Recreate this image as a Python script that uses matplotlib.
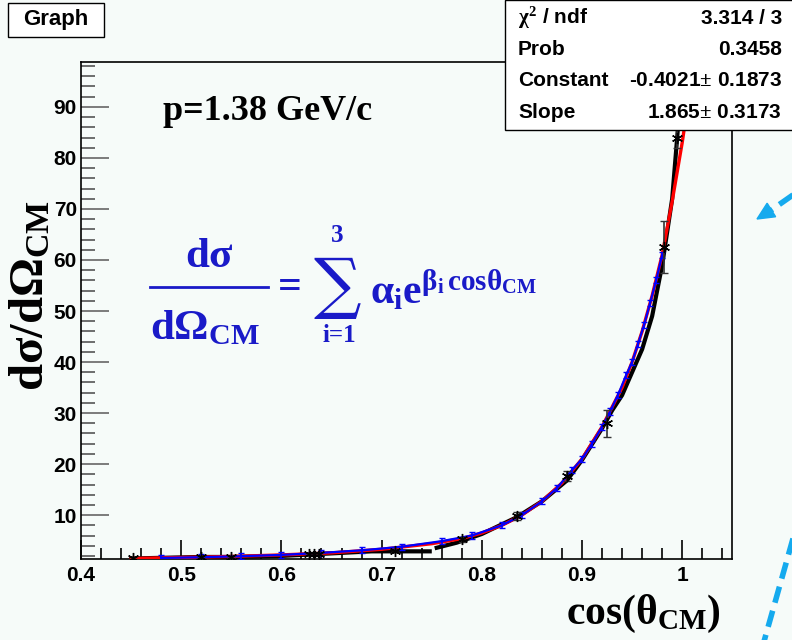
import numpy as np
import matplotlib
matplotlib.use('Agg')
import matplotlib.pyplot as plt
from matplotlib.patches import Rectangle, Polygon
from matplotlib.lines import Line2D
from matplotlib.ticker import MultipleLocator

plt.rcParams['mathtext.fontset'] = 'custom'
plt.rcParams['mathtext.rm'] = 'Liberation Serif:bold'
plt.rcParams['mathtext.it'] = 'Liberation Serif:bold'
plt.rcParams['mathtext.bf'] = 'Liberation Serif:bold'

# measured points (asterisks with error bars)
pt_x = [0.452, 0.52, 0.55, 0.628, 0.633, 0.638, 0.713, 0.78, 0.835, 0.885, 0.925, 0.982, 0.995]
pt_y = [1.6, 1.8, 1.8, 2.3, 2.4, 2.4, 3.0, 5.3, 9.8, 17.6, 28.0, 62.5, 84.0]
pt_err = [0.2, 0.2, 0.2, 0.2, 0.2, 0.2, 0.3, 0.5, 0.8, 1.0, 2.6, 5.1, 2.0]

# black thick line
blk_x = [0.45, 0.52, 0.55, 0.6, 0.63, 0.64, 0.69, 0.748, np.nan, 0.755, 0.775, 0.8, 0.835,
         0.86, 0.885, 0.9, 0.92, 0.93, 0.94, 0.95, 0.96, 0.97, 0.98, 0.99, 0.995, 1.0]
blk_y = [1.5, 1.8, 1.8, 2.0, 2.3, 2.4, 2.9, 2.9, np.nan, 3.6, 4.6, 6.3, 9.6,
         12.7, 16.8, 20.8, 27.0, 30.5, 33.5, 38.0, 42.5, 49.0, 59.0, 72.0, 84.0, 97.0]

# red fit curve
red_x = [0.45, 0.5, 0.55, 0.6, 0.65, 0.7, 0.75, 0.78, 0.8, 0.82, 0.84, 0.86, 0.88, 0.9,
         0.92, 0.94, 0.95, 0.96, 0.97, 0.98, 0.99, 1.0, 1.012]
red_y = [1.5, 1.7, 1.9, 2.2, 2.6, 3.3, 4.4, 5.4, 6.5, 8.0, 10.0, 12.7, 16.3, 21.0,
         27.3, 35.0, 40.0, 46.0, 53.0, 61.0, 71.5, 83.0, 99.0]

# blue curve with small markers
blu_x = [0.48, 0.52, 0.56, 0.6, 0.64, 0.68, 0.72, 0.76, 0.79, 0.82, 0.84, 0.86, 0.875, 0.89,
         0.9, 0.91, 0.92, 0.928, 0.936, 0.944, 0.95, 0.956, 0.962, 0.968, 0.974, 0.98]
blu_y = [1.6, 1.75, 1.95, 2.2, 2.6, 3.1, 3.8, 4.9, 6.0, 8.0, 10.0, 12.7, 15.3, 18.8,
         21.0, 24.0, 27.3, 30.3, 33.6, 37.4, 40.0, 43.6, 47.3, 51.6, 56.0, 61.0]

stat_names = [r'$\chi^2$ / ndf', 'Prob', 'Constant', 'Slope']
stat_vals = ['3.314 / 3', '0.3458', '-0.4021$\\pm$ 0.1873', '1.865$\\pm$ 0.3173']

W, H = 792, 640
bg = '#f6fbf9'
fig = plt.figure(figsize=(W / 100, H / 100), dpi=100, facecolor=bg)
ax = fig.add_axes([81 / W, 1 - 559 / H, (732 - 81) / W, (559 - 62) / H], facecolor=bg)

def px(x, y):
    return x / W, 1 - y / H

ax.plot(red_x, red_y, color='red', lw=2.4, zorder=3)
ax.plot(blk_x, blk_y, color='black', lw=3, zorder=2)
ax.errorbar(blu_x, blu_y, yerr=0.6, color='blue', lw=1.6, capsize=2.5, elinewidth=1.2, zorder=4)
ax.errorbar(pt_x, pt_y, yerr=pt_err, fmt='none', ecolor='#333333', elinewidth=1.2, capsize=3, zorder=5)
ax.plot(pt_x, pt_y, ls='none', marker=(6, 2, 0), ms=8, mec='black', mew=1, zorder=6)

ax.set_xlim(0.4, 1.0497)
ax.set_ylim(1.4, 98.8)
ax.xaxis.set_minor_locator(MultipleLocator(0.02))
ax.yaxis.set_minor_locator(MultipleLocator(2))
ax.set_yticks(range(10, 100, 10))
ax.set_xticks([0.4, 0.5, 0.6, 0.7, 0.8, 0.9, 1.0])
ax.set_xticklabels(['0.4', '0.5', '0.6', '0.7', '0.8', '0.9', '1'])
ax.tick_params(axis='x', which='major', direction='in', length=14, width=1.2, color='black', pad=5)
ax.tick_params(axis='x', which='minor', direction='in', length=8, width=1.2, color='black')
ax.tick_params(axis='y', which='major', direction='in', length=20, width=1.2, color='#666666', pad=3)
ax.tick_params(axis='y', which='minor', direction='in', length=10, width=1.2, color='#555555')
for lab in ax.get_xticklabels() + ax.get_yticklabels():
    lab.set_fontfamily('Liberation Sans')
    lab.set_fontweight('bold')
    lab.set_fontsize(15)
for s in ax.spines.values():
    s.set_linewidth(1.2)

# axis titles
fig.text(*px(643, 614), r'$\mathrm{cos(\theta_{CM})}$', fontsize=30, ha='center', va='center')
fig.text(*px(29, 295), r'$\mathrm{d\sigma/d\Omega_{CM}}$', fontsize=35, ha='center', va='center', rotation=90)

# momentum label
fig.text(*px(268, 111), 'p=1.38 GeV/c', fontsize=26, family='Liberation Serif', weight='bold',
         ha='center', va='center')

# formula
fc = '#1a1ac8'
fig.text(*px(209, 255), r'$\mathrm{d\sigma}$', fontsize=31, color=fc, ha='center', va='center')
fig.add_artist(Line2D([150 / W, 268 / W], [1 - 287 / H, 1 - 287 / H], color=fc, lw=2))
fig.text(*px(205, 327), r'$\mathrm{d\Omega_{CM}}$', fontsize=31, color=fc, ha='center', va='center')
fig.text(*px(290, 288), '=', fontsize=30, family='Liberation Serif', weight='bold', color=fc,
         ha='center', va='center')
fig.text(*px(337, 287), '\u2211', fontsize=48, family='DejaVu Serif', color=fc, ha='center', va='center')
fig.text(*px(337, 236), '3', fontsize=18, family='Liberation Serif', weight='bold', color=fc,
         ha='center', va='center')
fig.text(*px(339, 336), 'i=1', fontsize=18, family='Liberation Serif', weight='bold', color=fc,
         ha='center', va='center')
fig.text(*px(370, 290), r'$\mathrm{\alpha_{i}e^{\beta_{i}\,cos\theta_{CM}}}$', fontsize=30, color=fc,
         ha='left', va='center')

# Graph title box
fig.add_artist(Rectangle((8 / W, 1 - 37 / H), 96 / W, 34 / H, transform=fig.transFigure,
                         fc='white', ec='black', lw=1))
fig.text(*px(56, 20), 'Graph', fontsize=16, family='Liberation Sans', weight='bold', ha='center', va='center')

# stats box
fig.add_artist(Rectangle((505 / W, 1 - 130 / H), 300 / W, 130 / H, transform=fig.transFigure,
                         fc='white', ec='black', lw=1, zorder=10))
for i, (n, v) in enumerate(zip(stat_names, stat_vals)):
    yy = 18 + i * 31.5
    fig.text(*px(518, yy), n, fontsize=15, family='Liberation Sans', weight='bold',
             ha='left', va='center', zorder=11)
    fig.text(*px(782, yy), v, fontsize=15, family='Liberation Sans', weight='bold',
             ha='right', va='center', zorder=11)

# dashed blue arrows at the right
ac = '#15aaee'
dash = (0, (3, 1.5))
fig.add_artist(Line2D([800 / W, 770 / W], [1 - 190 / H, 1 - 211 / H], color=ac, lw=4, linestyle=dash))
tip = np.array([757.0, 219.0])
d = np.array([-0.846, 0.531])
n = np.array([-d[1], d[0]])
base = tip - 17 * d
head = [tip, base + 8 * n, base - 8 * n]
fig.add_artist(Polygon([px(*p) for p in head], closed=True, transform=fig.transFigure, fc=ac, ec=ac))
fig.add_artist(Line2D([794 / W, 763 / W], [1 - 535 / H, 1 - 645 / H], color=ac, lw=4, linestyle=dash))

fig.savefig('out.png', dpi=100, facecolor=bg)
